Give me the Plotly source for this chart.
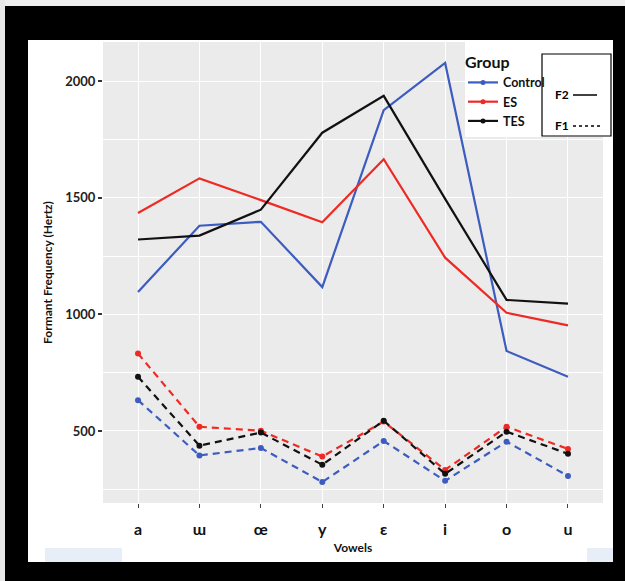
import plotly.graph_objects as go

vowels = ["a", "ɯ", "œ", "y", "ɛ", "i", "o", "u"]
groups = ["Control", "ES", "TES"]
colors = {"Control": "#3c5cbf", "ES": "#ee2a24", "TES": "#111111"}

f2_control = [1096, 1380, 1397, 1117, 1876, 2078, 843, 732]
f2_es = [1435, 1583, 1490, 1395, 1665, 1243, 1007, 953]
f2_tes = [1321, 1338, 1449, 1779, 1937, 1495, 1062, 1046]

f1_control = [632, 395, 427, 281, 457, 286, 454, 307]
f1_es = [832, 518, 501, 390, 540, 333, 518, 423]
f1_tes = [732, 437, 493, 355, 544, 316, 497, 402]

f2 = {"Control": f2_control, "ES": f2_es, "TES": f2_tes}
f1 = {"Control": f1_control, "ES": f1_es, "TES": f1_tes}

FONT = "Lato"
W, H = 625, 581
L, R, T, B = 103, 22, 42, 78
PW, PH = W - L - R, H - T - B


def px(x):
    return (x - L) / PW


def py(y):
    return (H - B - y) / PH


fig = go.Figure()
for g in groups:
    fig.add_trace(go.Scatter(x=vowels, y=f2[g], mode="lines", showlegend=False,
                             line=dict(color=colors[g], width=2.2)))
for g in groups:
    fig.add_trace(go.Scatter(x=vowels, y=f1[g], mode="lines+markers", showlegend=False,
                             line=dict(color=colors[g], width=2.2, dash="7px,5px"),
                             marker=dict(color=colors[g], size=6)))
for g in groups:
    fig.add_trace(go.Scatter(x=[None], y=[None], mode="lines+markers", name=g,
                             line=dict(color=colors[g], width=2.2),
                             marker=dict(color=colors[g], size=5)))

shapes = []


def rect(x0, y0, x1, y1, fill, layer="above", line=None):
    d = dict(type="rect", xref="paper", yref="paper",
             x0=px(x0), x1=px(x1), y0=py(y0), y1=py(y1),
             fillcolor=fill, layer=layer)
    d["line"] = line if line else dict(width=0)
    shapes.append(d)


# outer black frame
rect(0, 0, 625, 6, "#efefef")
rect(0, 0, 5, 581, "#e9e9e9")
rect(5, 6, 625, 40, "black")
rect(5, 6, 28, 581, "black")
rect(613, 6, 625, 581, "black")
rect(5, 562, 625, 581, "black")
# faint blue strips at bottom
rect(45, 548, 122, 562, "#e8eef8")
rect(587, 548, 613, 562, "#e8eef8")
# legend white background
rect(465, 40, 612, 137, "white")
# F2/F1 box
shapes.append(dict(type="rect", xref="paper", yref="paper",
                   x0=px(542), x1=px(611), y0=py(54), y1=py(136),
                   fillcolor="rgba(0,0,0,0)", line=dict(color="black", width=1.2),
                   layer="above"))
shapes.append(dict(type="line", xref="paper", yref="paper",
                   x0=px(573), x1=px(597), y0=py(95), y1=py(95),
                   line=dict(color="black", width=1.5), layer="above"))
shapes.append(dict(type="line", xref="paper", yref="paper",
                   x0=px(573), x1=px(600), y0=py(126), y1=py(126),
                   line=dict(color="black", width=1.5, dash="3px,3px"), layer="above"))

annotations = [
    dict(text="<b>F2</b>", x=px(553), y=py(95), xref="paper", yref="paper",
         xanchor="left", yanchor="middle", showarrow=False,
         font=dict(family=FONT, size=12, color="black")),
    dict(text="<b>F1</b>", x=px(553), y=py(125), xref="paper", yref="paper",
         xanchor="left", yanchor="middle", showarrow=False,
         font=dict(family=FONT, size=12, color="black")),
]

fig.update_layout(
    width=W, height=H,
    margin=dict(l=L, r=R, t=T, b=B),
    paper_bgcolor="white",
    plot_bgcolor="#ebebeb",
    font=dict(family=FONT, color="#222"),
    shapes=shapes,
    annotations=annotations,
    legend=dict(
        x=px(463), y=py(47), xanchor="left", yanchor="top",
        bgcolor="rgba(0,0,0,0)",
        title=dict(text="<b>Group</b>", font=dict(family=FONT, size=16, color="#111")),
        font=dict(family=FONT, size=12.5, color="#111", weight="bold"),
        itemwidth=30, tracegroupgap=0,
    ),
    xaxis=dict(
        type="category", range=[-0.57, 7.57],
        showgrid=True, gridcolor="white", gridwidth=1.2,
        ticks="outside", ticklen=4, tickcolor="#444", tickwidth=1,
        tickfont=dict(family=FONT, size=16, color="#111", weight="bold"),
        ticklabelstandoff=8,
        title=dict(text="<b>Vowels</b>", font=dict(family=FONT, size=12, color="#111"), standoff=6),
        zeroline=False, showline=False,
    ),
    yaxis=dict(
        range=[191, 2168],
        tickvals=[500, 1000, 1500, 2000],
        showgrid=True, gridcolor="white", gridwidth=1.2,
        minor=dict(tickvals=[250, 750, 1250, 1750], showgrid=True,
                   gridcolor="white", gridwidth=0.6),
        ticks="outside", ticklen=4, tickcolor="#333", tickwidth=2,
        tickfont=dict(family=FONT, size=13, color="#222", weight="bold"),
        title=dict(text="<b>Formant Frequency (Hertz)</b>",
                   font=dict(family=FONT, size=12, color="#111"), standoff=10),
        zeroline=False, showline=False,
    ),
)

fig.write_html("out.html", config={"displayModeBar": False},
               post_script="document.body.style.margin='0px';")
